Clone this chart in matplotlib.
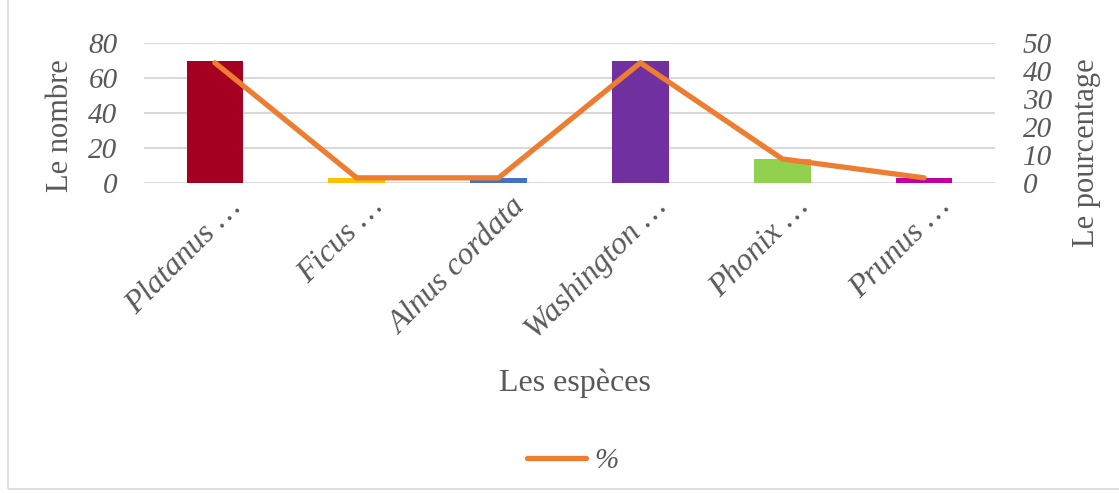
import matplotlib.pyplot as plt
import matplotlib.transforms as mtransforms
from matplotlib.patches import Rectangle
import numpy as np

plt.rcParams['font.family'] = ['Liberation Serif', 'DejaVu Serif']

especes = ['Platanus …', 'Ficus …', 'Alnus cordata', 'Washington …', 'Phonix …', 'Prunus …']
nombre = [70, 3, 3, 70, 14, 3]
pourcentage = [42.94, 1.84, 1.84, 42.94, 8.59, 1.84]
couleurs = ['#A50021', '#FFC000', '#4472C4', '#7030A0', '#92D050', '#C000A0']

gris = '#595959'
orange = '#ED7D31'

fig = plt.figure(figsize=(11.19, 4.93), dpi=100)
ax1 = fig.add_axes([144 / 1119, 1 - 183 / 493, (995 - 144) / 1119, 140 / 493])
ax2 = ax1.twinx()

x = np.arange(len(especes))
ax1.bar(x, nombre, width=0.4, color=couleurs, zorder=2)
ax1.set_ylim(0, 80)
ax1.set_yticks([0, 20, 40, 60, 80])
ax1.set_xlim(-0.5, len(especes) - 0.5)
ax1.grid(axis='y', color='#D9D9D9', linewidth=1.5, zorder=0)
ax1.set_axisbelow(True)

ligne, = ax2.plot(x, pourcentage, color=orange, linewidth=3.8,
                  solid_capstyle='round', solid_joinstyle='round', label='%')
ax2.set_ylim(0, 50)
ax2.set_yticks([0, 10, 20, 30, 40, 50])

for ax in (ax1, ax2):
    for s in ax.spines.values():
        s.set_visible(False)
    ax.tick_params(length=0, labelsize=21, labelcolor=gris)
    for lab in ax.get_yticklabels():
        lab.set_fontstyle('italic')

ax1.tick_params(axis='y', pad=19)
ax2.tick_params(axis='y', pad=20)
ax1.set_xticks(x)
ax1.set_xticklabels(especes, rotation=45, ha='right', rotation_mode='anchor',
                    fontstyle='italic', fontsize=23, color=gris)
ax1.tick_params(axis='x', pad=7)
decalage = mtransforms.ScaledTranslation(12 / 100, 0, fig.dpi_scale_trans)
for lab in ax1.get_xticklabels():
    lab.set_transform(lab.get_transform() + decalage)

ax1.set_ylabel('Le nombre', fontsize=22, color=gris)
ax2.set_ylabel('Le pourcentage', fontsize=22, color=gris)
ax1.yaxis.set_label_coords(-0.081, 0.41)
ax2.yaxis.set_label_coords(1.09, 0.22)

fig.text(575 / 1119, 1 - 383 / 493, 'Les espèces', fontsize=23, color=gris,
         ha='center', va='center')

leg = fig.legend(handles=[ligne], loc='center', bbox_to_anchor=(573 / 1119, 1 - 461 / 493),
                 frameon=False, fontsize=21, handlelength=2.0, handletextpad=0.3)
for t in leg.get_texts():
    t.set_color(gris)
    t.set_fontstyle('italic')

fig.patches.append(Rectangle((8 / 1119, 4 / 493), 1.2, 1.2, transform=fig.transFigure,
                             fill=False, edgecolor='#D9D9D9', linewidth=1.2))

fig.savefig('out.png', dpi=100)
